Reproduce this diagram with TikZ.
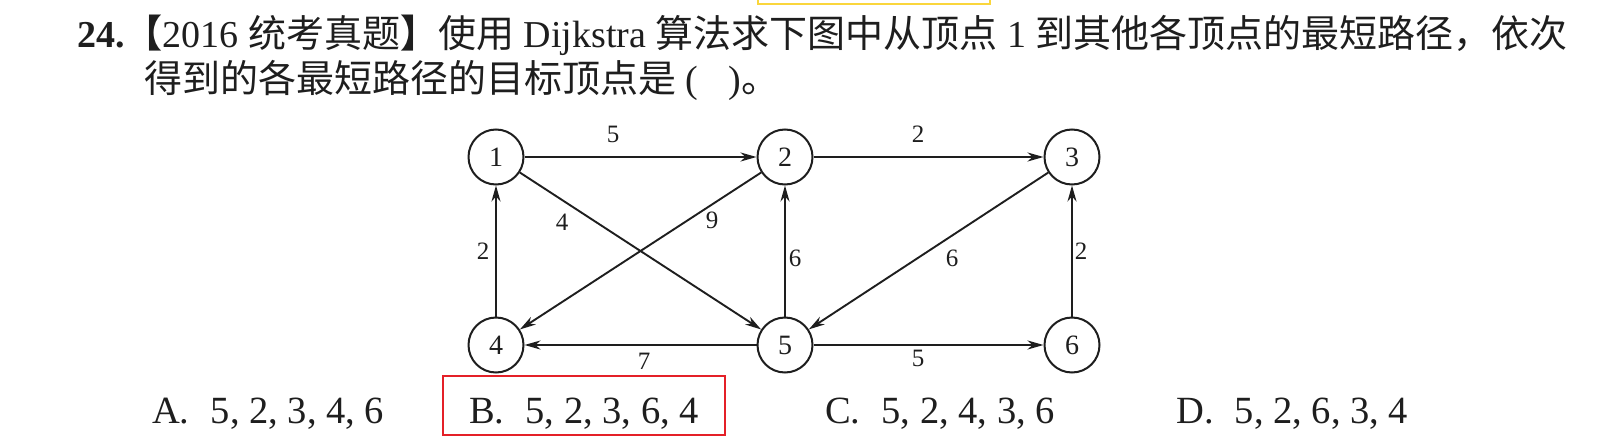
\documentclass[tikz,border=0pt]{standalone}
\usepackage{fontspec}
\setmainfont{Liberation Serif}
\newfontfamily\cjk{Noto Sans CJK SC}
\usetikzlibrary{arrows.meta}
\definecolor{ink}{RGB}{30,30,30}
\definecolor{hlyellow}{RGB}{250,214,60}
\definecolor{hlred}{RGB}{228,32,40}
\begin{document}
\begin{tikzpicture}[x=1pt,y=-1pt,
  vtx/.style={circle,draw=ink,line width=2pt,minimum size=55pt,inner sep=0pt,text=ink,font=\fontsize{28}{28}\selectfont},
  edge/.style={draw=ink,line width=1.9pt,-{Stealth[length=16pt,width=9pt,inset=5pt]}},
  wt/.style={inner sep=0pt,text=ink,font=\fontsize{25}{25}\selectfont},
  txt/.style={inner sep=0pt,anchor=base west,text=ink,font=\fontsize{38}{45}\selectfont},
  opt/.style={inner sep=0pt,anchor=base west,text=ink,font=\fontsize{38.5}{45}\selectfont}]
\useasboundingbox[fill=white] (0,0) rectangle (1617,447);

% question text
\node[txt] (q1) at (77,47) {\textbf{24.}{\cjk\bfseries 【}2016 {\cjk 统考真题}{\cjk\bfseries 】}{\cjk 使用} Dijkstra {\cjk 算法求下图中从顶点} 1 {\cjk 到其他各顶点的最短路径，依次}};
\node[txt] (q2) at (144,92) {{\cjk 得到的各最短路径的目标顶点是} (\hspace{0.8em}){\cjk 。}};

% highlight boxes
\node[draw=hlyellow,line width=2pt,minimum width=232pt,minimum height=20pt,inner sep=0pt] (hy) at (874,-6) {};
\node[draw=hlred,line width=2pt,minimum width=282pt,minimum height=59pt,inner sep=0pt] (hr) at (584,405.5) {};

% vertices
\node[vtx] (n1) at (496,157) {1};
\node[vtx] (n2) at (785,157) {2};
\node[vtx] (n3) at (1072,157) {3};
\node[vtx] (n4) at (496,345) {4};
\node[vtx] (n5) at (785,345) {5};
\node[vtx] (n6) at (1072,345) {6};

% edges
\draw[edge] (n1) -- (n2);
\draw[edge] (n2) -- (n3);
\draw[edge] (n1) -- (n5);
\draw[edge] (n2) -- (n4);
\draw[edge] (n4) -- (n1);
\draw[edge] (n5) -- (n2);
\draw[edge] (n3) -- (n5);
\draw[edge] (n6) -- (n3);
\draw[edge] (n5) -- (n4);
\draw[edge] (n5) -- (n6);

% weights
\node[wt] (w12) at (613,134) {5};
\node[wt] (w23) at (918,134) {2};
\node[wt] (w15) at (562,222) {4};
\node[wt] (w24) at (712,220) {9};
\node[wt] (w41) at (483,251) {2};
\node[wt] (w52) at (795,258) {6};
\node[wt] (w35) at (952,258) {6};
\node[wt] (w63) at (1081,251) {2};
\node[wt] (w54) at (644,361) {7};
\node[wt] (w56) at (918,358) {5};

% options
\node[opt] (oa) at (152,423) {A.\hspace{0.55em}5, 2, 3, 4, 6};
\node[opt] (ob) at (469,423) {B.\hspace{0.55em}5, 2, 3, 6, 4};
\node[opt] (oc) at (825,423) {C.\hspace{0.55em}5, 2, 4, 3, 6};
\node[opt] (od) at (1176,423) {D.\hspace{0.55em}5, 2, 6, 3, 4};
\end{tikzpicture}
\end{document}
